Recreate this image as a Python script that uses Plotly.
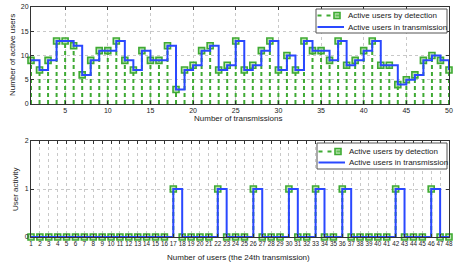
import plotly.graph_objects as go

# ---- data ----
transmissions = list(range(1, 51))
active_detect = [9, 7, 9, 13, 13, 12, 6, 9, 11, 11, 13, 9, 7, 11, 9, 9, 12, 3, 7, 8,
                 11, 12, 7, 8, 13, 7, 8, 11, 13, 7, 10, 7, 13, 11, 11, 9, 13, 8, 9, 11,
                 13, 8, 8, 4, 5, 6, 9, 10, 9, 7]
active_trans = list(active_detect)

users = list(range(1, 49))
active_ids = [17, 22, 26, 30, 33, 36, 42, 46]
user_detect = [1 if u in active_ids else 0 for u in users]
user_trans = list(user_detect)

top_xticks = [5, 10, 15, 20, 25, 30, 35, 40, 45, 50]
top_yticks = [0, 5, 10, 15, 20]
bot_yticks = [0, 1, 2]

legend_names = ["Active users by detection", "Active users in transmission"]
top_xtitle = "Number of transmissions"
top_ytitle = "Number of active users"
bot_xtitle = "Number of users (the 24th transmission)"
bot_ytitle = "User activity"

GREEN = "#3faa33"
GREEN_FILL = "rgba(130,205,115,0.55)"
BLUE = "#2a48ff"
FONT = "Liberation Sans, Arial, sans-serif"
TXT = "#222"

W, H = 457, 267
ML, MR, MT, MB = 31, 8, 7, 30


def px(x):
    return (x - ML) / (W - ML - MR)


def py(y):
    return (H - MB - y) / (H - MT - MB)


def stems(xs, ys):
    sx, sy = [], []
    for x, y in zip(xs, ys):
        sx += [x, x, None]
        sy += [0, y, None]
    return sx, sy


fig = go.Figure()

for (xs, ys, yt, xa, ya) in [
    (transmissions, active_detect, active_trans, "x", "y"),
    (users, user_detect, user_trans, "x2", "y2"),
]:
    sx, sy = stems(xs, ys)
    fig.add_trace(go.Scatter(x=sx, y=sy, mode="lines", xaxis=xa, yaxis=ya,
                             line=dict(color=GREEN, width=2, dash="4px,3px"),
                             showlegend=False, hoverinfo="skip", cliponaxis=False))
    fig.add_trace(go.Scatter(x=xs, y=ys, mode="markers", xaxis=xa, yaxis=ya,
                             marker=dict(symbol="square", size=6, color=GREEN_FILL,
                                         line=dict(color=GREEN, width=1.6)),
                             showlegend=False, cliponaxis=False))
    fig.add_trace(go.Scatter(x=xs, y=yt, mode="lines", xaxis=xa, yaxis=ya,
                             line=dict(color=BLUE, width=2, shape="hv"),
                             showlegend=False, cliponaxis=False))

axis_common = dict(showline=True, linecolor="#333", linewidth=1, mirror="ticks",
                   ticks="inside", ticklen=3, tickcolor="#333", automargin=False,
                   showgrid=True, gridcolor="#c8c8c8", griddash="dot", gridwidth=1,
                   zeroline=False, tickangle=0, ticklabeloverflow="allow",
                   tickfont=dict(size=7, color=TXT, family=FONT))

fig.update_layout(
    width=W, height=H,
    margin=dict(l=ML, r=MR, t=MT, b=MB),
    paper_bgcolor="white", plot_bgcolor="white",
    font=dict(family=FONT, size=8, color=TXT),
    showlegend=False,
    xaxis=dict(domain=[0, 1], anchor="y", range=[1, 50], tickvals=top_xticks,
               **axis_common),
    yaxis=dict(domain=[py(104), 1], anchor="x", range=[0, 20], tickvals=top_yticks,
               **axis_common),
    xaxis2=dict(domain=[0, 1], anchor="y2", range=[1, 48], tickvals=users,
                **{**axis_common, "tickfont": dict(size=6.3, color=TXT, family=FONT)}),
    yaxis2=dict(domain=[0, py(141)], anchor="x2", range=[0, 2], tickvals=bot_yticks,
                **axis_common),
)

# axis titles
ann = [
    dict(text=top_xtitle, x=px(238), y=py(118)),
    dict(text=bot_xtitle, x=px(238), y=py(257)),
    dict(text=top_ytitle, x=px(12), y=py(55), textangle=-90),
    dict(text=bot_ytitle, x=px(15), y=py(189), textangle=-90),
]
for a in ann:
    fig.add_annotation(xref="paper", yref="paper", showarrow=False,
                       xanchor="center", yanchor="middle",
                       font=dict(size=8, color=TXT, family=FONT), **a)

# custom legends
for (bx0, by0, bx1, by1, r1, r2) in [(316, 9, 447, 33, 15.5, 27),
                                     (317, 143, 447, 169, 151.5, 162.5)]:
    fig.add_shape(type="rect", xref="paper", yref="paper",
                  x0=px(bx0), x1=px(bx1), y0=py(by0), y1=py(by1),
                  fillcolor="white", line=dict(color="#555", width=1), layer="above")
    fig.add_shape(type="line", xref="paper", yref="paper",
                  x0=px(bx0 + 1.5), x1=px(bx0 + 27), y0=py(r1), y1=py(r1),
                  line=dict(color=GREEN, width=2, dash="4px,5px"), layer="above")
    fig.add_shape(type="rect", xref="paper", yref="paper",
                  x0=px(bx0 + 18), x1=px(bx0 + 24), y0=py(r1 - 3), y1=py(r1 + 3),
                  fillcolor=GREEN_FILL, line=dict(color=GREEN, width=1.6), layer="above")
    fig.add_shape(type="line", xref="paper", yref="paper",
                  x0=px(bx0 + 1.5), x1=px(bx0 + 28), y0=py(r2), y1=py(r2),
                  line=dict(color=BLUE, width=2), layer="above")
    for name, ry in zip(legend_names, [r1, r2]):
        fig.add_annotation(xref="paper", yref="paper", showarrow=False,
                           x=px(bx0 + 30), y=py(ry), xanchor="left", yanchor="middle",
                           text=name, font=dict(size=8, color=TXT, family=FONT))

fig.write_html("out.html",
               config={"displayModeBar": False, "staticPlot": True},
               post_script="document.body.style.margin='0px';"
                           "document.body.style.overflow='hidden';")
